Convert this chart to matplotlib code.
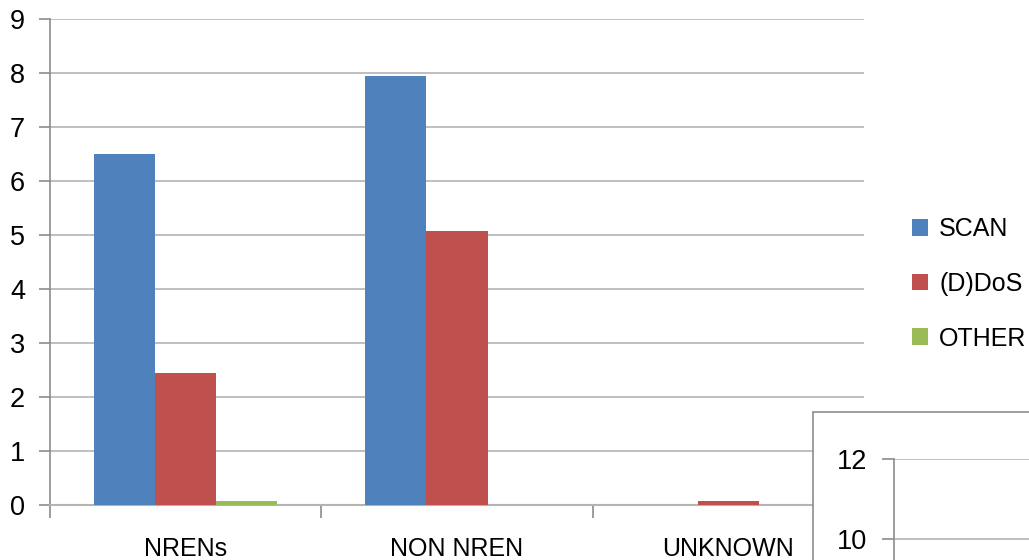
import matplotlib
matplotlib.use('Agg')
import matplotlib.pyplot as plt
from matplotlib.patches import Rectangle
import numpy as np

# data
categories = ['NRENs', 'NON NREN', 'UNKNOWN']
series_names = ['SCAN', '(D)DoS', 'OTHER']
scan = [6.5, 7.95, 0.0]
ddos = [2.45, 5.07, 0.07]
other = [0.07, 0.0, 0.0]
colors = ['#4F81BD', '#C0504D', '#9BBB59']

inset_ticks = [8, 10, 12]

W, H = 1029, 560
fig = plt.figure(figsize=(W / 100, H / 100), dpi=100)

num_font = ['Liberation Sans', 'DejaVu Sans']
txt_font = ['Liberation Sans Narrow', 'Liberation Sans', 'DejaVu Sans']
grid_c = '#b4b4b4'
spine_c = '#8c8c8c'

# main chart
ax = fig.add_axes([50 / W, (H - 505) / H, 814 / W, 486 / H], zorder=0)
x = np.arange(len(categories))
bw = 0.225
for i, (vals, name) in enumerate(zip([scan, ddos, other], series_names)):
    ax.bar(x + (i - 1) * bw, vals, width=bw, color=colors[i], label=name, zorder=3)

ax.set_xlim(-0.5, 2.5)
ax.set_ylim(0, 9)
ax.set_yticks(range(10))
ax.set_yticklabels([str(v) for v in range(10)], fontsize=19.5, family=num_font)
ax.yaxis.grid(True, color=grid_c, linewidth=1.2)
ax.set_axisbelow(True)
ax.tick_params(axis='y', length=8, width=1.2, color=spine_c, pad=10)

ax.set_xticks(x)
ax.set_xticklabels(categories, fontsize=18, family=txt_font)
ax.set_xticks([-0.5, 0.5, 1.5, 2.5], minor=True)
ax.tick_params(axis='x', which='major', length=0, pad=23)
ax.tick_params(axis='x', which='minor', length=9, width=1.2, color=spine_c)

for s in ['top', 'right']:
    ax.spines[s].set_visible(False)
ax.spines['left'].set_color(spine_c)
ax.spines['bottom'].set_color(grid_c)
ax.spines['left'].set_linewidth(1.2)
ax.spines['bottom'].set_linewidth(1.5)

leg = fig.legend(loc='center left', bbox_to_anchor=(912 / W, (H - 284) / H),
                 frameon=False, borderpad=0, borderaxespad=0,
                 handlelength=0.64, handleheight=0.64, handletextpad=0.45,
                 labelspacing=1.22, prop={'family': txt_font, 'size': 18})

# the second chart's frame that sits over the corner
box = Rectangle((813 / W, -0.1), 0.3, (H - 412) / H + 0.1, transform=fig.transFigure,
                facecolor='white', edgecolor=spine_c, linewidth=1.2, zorder=1)
fig.patches.append(box)

ax2 = fig.add_axes([894 / W, (H - 619) / H, 0.3, 160 / H], zorder=2)
ax2.patch.set_alpha(0)
ax2.set_ylim(8, 12)
ax2.set_yticks(inset_ticks)
ax2.set_yticklabels([str(v) for v in inset_ticks], fontsize=19.5, family=num_font)
ax2.yaxis.grid(True, color=grid_c, linewidth=1.2)
ax2.tick_params(axis='y', length=9, width=1.2, color=spine_c, pad=10)
ax2.set_xticks([])
for s in ['top', 'right', 'bottom']:
    ax2.spines[s].set_visible(False)
ax2.spines['left'].set_color(spine_c)
ax2.spines['left'].set_linewidth(1.2)

fig.savefig('out.png', dpi=100)
